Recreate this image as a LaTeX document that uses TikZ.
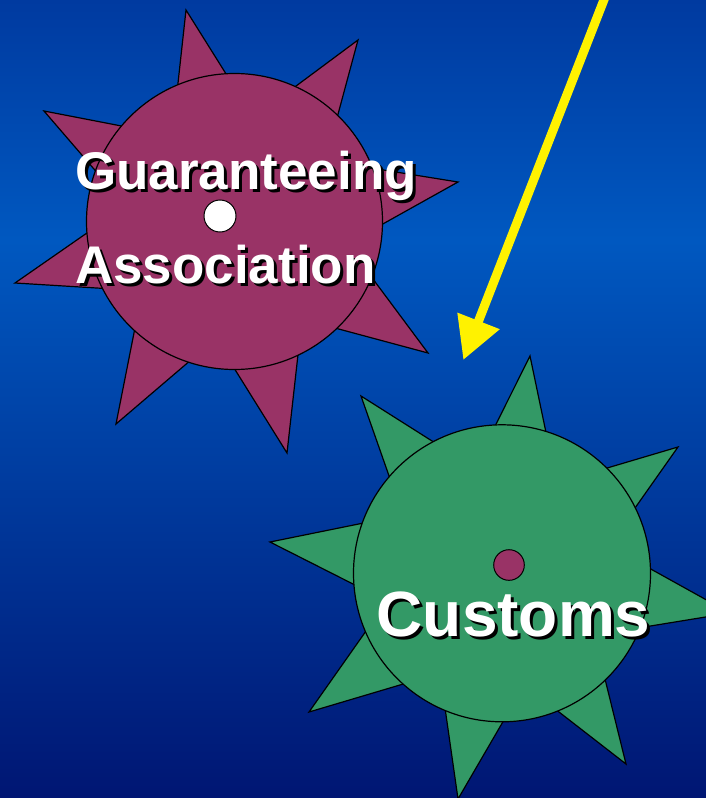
\documentclass[tikz,border=0pt]{standalone}
\usepackage{fontspec}
\setmainfont{Liberation Sans}
\usetikzlibrary{positioning,calc,arrows.meta}

\definecolor{bgtop}{RGB}{0,58,160}
\definecolor{bgmid}{RGB}{0,88,192}
\definecolor{bgbot}{RGB}{0,22,115}
\definecolor{gamaroon}{RGB}{153,51,102}
\definecolor{cugreen}{RGB}{51,153,102}

% white text with a dark drop shadow
\newcommand{\dropshd}[1]{\rlap{\kern3bp\raisebox{-3bp}{\color{black}#1}}#1}

\begin{document}
\begin{tikzpicture}[x=1bp, y=-1bp,
    hub/.style={%
      circle, draw=black, line width=1.2bp, inner sep=0pt, minimum size=#1
    },
    spk/.style={%
      draw=black, line width=1.2bp, line join=miter
    },
    lbl/.style={%
      anchor=base west, inner sep=0pt, text=white
    }
]
    \useasboundingbox (0,0) rectangle (706,798);
    \clip (0,0) rectangle (706,798);
    \shade[top color=bgtop, bottom color=bgmid] (0,0) rectangle (706,240);
    \shade[top color=bgmid, bottom color=bgbot] (0,240) rectangle (706,798);

    % guaranteeing association
    \coordinate (ga) at (234.5,221.5);
    \foreach \x/\y in {186/10, 358/40, 458/182, 428/353, 287/453, 116/424, 15/283, 44/111}
      \draw[spk, fill=gamaroon] (\x,\y) -- ($(ga)!0.6!14:(\x,\y)$) -- ($(ga)!0.6!-14:(\x,\y)$) -- cycle;
    \node[hub=296bp, fill=gamaroon] (gahub) at (ga) {};
    \node[hub=32bp, fill=white, line width=1bp] (gadot) at (220,216) {};

    % customs
    \coordinate (cu) at (502,573.3);
    \foreach \x/\y in {530/356, 678/447, 730/613, 626/764, 458/799, 309/712, 270/542, 361/396}
      \draw[spk, fill=cugreen] (\x,\y) -- ($(cu)!0.6!14:(\x,\y)$) -- ($(cu)!0.6!-14:(\x,\y)$) -- cycle;
    \node[hub=297bp, fill=cugreen] (cuhub) at (cu) {};
    \node[hub=30.6bp, fill=gamaroon, line width=1bp] (cudot) at (509,565) {};

    % labels
    \node[lbl, font=\bfseries\fontsize{53bp}{60bp}\selectfont] (guar) at (75,189.5) {\dropshd{Guaranteeing}};
    \node[lbl, font=\bfseries\fontsize{53bp}{60bp}\selectfont] (assoc) at (75,283) {\dropshd{Association}};
    \node[lbl, font=\bfseries\fontsize{64bp}{70bp}\selectfont] (cust) at (376.5,636.5) {\dropshd{Customs}};

    % arrow
    \coordinate (src) at (607,-8);
    \coordinate (dst) at (463.3,360);
    \draw[yellow, line width=9bp, -{Triangle[length=42bp,width=43bp]}] (src) -- (dst);
\end{tikzpicture}
\end{document}
